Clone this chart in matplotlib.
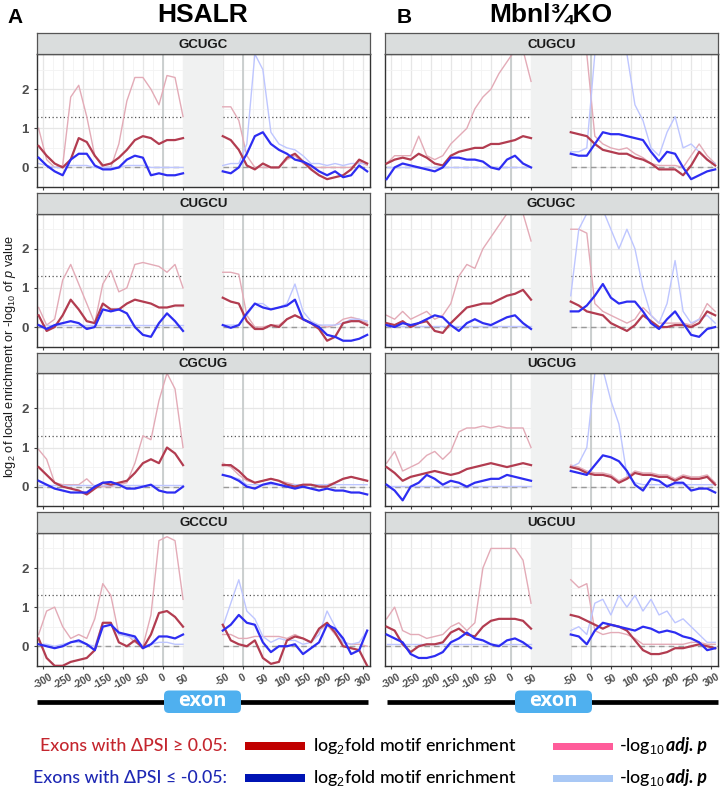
import matplotlib
matplotlib.use('Agg')
import matplotlib.pyplot as plt
from matplotlib.patches import FancyBboxPatch, Rectangle

plt.rcParams['mathtext.fontset'] = 'custom'
plt.rcParams['mathtext.rm'] = 'Liberation Sans'
plt.rcParams['mathtext.it'] = 'Liberation Sans:italic'
plt.rcParams['mathtext.bf'] = 'Liberation Sans:bold'

# ---------------- data ----------------
POS_UP = list(range(-310, 51, 20))     # upstream intron (+ exon start) positions
POS_DOWN = list(range(-50, 311, 20))   # exon end + downstream intron positions
TICKS_UP = [-300, -250, -200, -150, -100, -50, 0, 50]
TICKS_DOWN = [-50, 0, 50, 100, 150, 200, 250, 300]
MOTIFS_A = ['GCUGC', 'CUGCU', 'CGCUG', 'GCCCU']
MOTIFS_B = ['CUGCU', 'GCUGC', 'UGCUG', 'UGCUU']

# Panel A (HSALR) --- each list: 19 upstream values then 19 downstream values
A_GCUGC_red = [0.55,0.3,0.1,0.0,0.2,0.75,0.65,0.3,0.05,0.1,0.25,0.45,0.7,0.8,0.75,0.6,0.7,0.7,0.75,
               0.8,0.7,0.45,0.05,-0.05,0.1,0.0,0.0,0.25,0.35,0.15,-0.05,-0.2,-0.3,-0.25,-0.2,-0.05,0.2,0.1]
A_GCUGC_pink = [1.0,0.2,0.0,0.05,1.8,2.1,1.3,0.3,0.0,0.0,0.6,1.7,2.3,2.3,2.0,1.6,2.35,2.3,1.3,
                1.55,1.55,1.2,0.3,0.0,0.0,0.0,0.0,0.2,0.3,0.1,0.0,0.0,0.0,0.0,0.0,0.0,0.15,0.05]
A_GCUGC_blue = [0.25,0.05,-0.1,-0.2,0.2,0.35,0.35,0.05,-0.05,-0.05,0.0,0.2,0.3,0.25,-0.2,-0.15,-0.2,-0.2,-0.15,
                -0.1,-0.15,0.0,0.35,0.8,0.9,0.6,0.45,0.35,0.2,0.15,0.05,-0.1,-0.2,-0.1,-0.25,-0.2,0.05,-0.1]
A_GCUGC_lblue = [0.1,0.05,0.0,0.0,0.05,0.05,0.05,0.0,0.0,0.0,0.0,0.05,0.05,0.05,0.0,0.0,0.0,0.0,0.0,
                 0.05,0.1,0.1,0.6,2.9,2.5,0.9,0.6,0.5,0.45,0.3,0.1,0.1,0.05,0.1,0.05,0.1,0.1,0.1]

A_CUGCU_red = [0.3,-0.1,0.0,0.3,0.7,0.45,0.15,0.1,0.6,0.45,0.45,0.6,0.7,0.65,0.6,0.5,0.5,0.55,0.55,
               0.75,0.65,0.6,0.15,-0.05,-0.05,0.05,0.0,0.2,0.3,0.2,0.1,-0.05,-0.35,-0.25,0.1,0.15,0.15,0.05]
A_CUGCU_pink = [0.5,0.05,0.2,1.2,1.6,1.1,0.6,0.1,1.1,1.45,0.9,1.0,1.6,1.65,1.6,1.55,1.4,1.6,1.0,
                1.4,1.4,1.35,0.3,0.0,0.0,0.05,0.05,0.2,0.3,0.2,0.1,0.05,0.0,0.05,0.2,0.25,0.2,0.1]
A_CUGCU_blue = [0.05,-0.05,0.05,0.1,0.15,0.1,-0.05,0.0,0.45,0.4,0.45,0.35,0.0,-0.2,-0.25,0.1,0.35,0.15,-0.1,
                0.05,-0.02,0.05,0.35,0.6,0.5,0.45,0.5,0.55,0.7,0.2,0.1,0.0,-0.2,-0.25,-0.35,-0.35,-0.3,-0.2]
A_CUGCU_lblue = [0.05,0.05,0.05,0.05,0.05,0.05,0.05,0.05,0.05,0.05,0.05,0.05,0.05,0.05,0.05,0.05,0.05,0.05,0.05,
                 0.05,0.05,0.05,0.3,0.6,0.6,0.45,0.5,0.6,1.1,0.4,0.15,0.05,0.05,0.05,0.1,0.2,0.2,0.15]

A_CGCUG_red = [0.5,0.3,0.1,0.0,-0.05,-0.1,-0.2,-0.05,0.1,0.05,0.1,0.15,0.35,0.6,0.7,0.6,1.0,0.85,0.55,
               0.55,0.55,0.4,0.2,0.1,0.15,0.2,0.15,0.05,0.0,0.05,0.05,0.0,0.0,0.1,0.2,0.25,0.2,0.15]
A_CGCUG_pink = [0.95,0.7,0.1,0.05,0.05,0.05,0.2,0.0,0.0,0.0,0.05,0.1,0.6,1.3,1.2,2.2,2.9,2.5,1.0,
                0.6,0.5,0.3,0.15,0.1,0.15,0.2,0.15,0.1,0.05,0.05,0.05,0.05,0.05,0.1,0.2,0.25,0.2,0.15]
A_CGCUG_blue = [0.15,0.05,-0.05,-0.1,-0.15,-0.15,-0.15,0.0,0.1,0.12,0.05,-0.05,-0.05,0.0,0.05,-0.1,-0.15,-0.15,0.0,
                0.3,0.25,0.15,0.0,-0.05,0.05,0.1,0.05,0.0,-0.05,0.0,-0.05,-0.1,-0.05,-0.1,-0.1,-0.15,-0.15,-0.2]
A_CGCUG_lblue = [0.03,0.03,0.03,0.03,0.03,0.03,0.03,0.03,0.03,0.03,0.03,0.03,0.03,0.03,0.03,0.03,0.03,0.03,0.03,
                 0.3,0.25,0.2,0.05,0.05,0.05,0.05,0.05,0.05,0.05,0.05,0.05,0.05,0.05,0.05,0.05,0.05,0.05,0.05]

A_GCCCU_red = [0.2,-0.3,-0.5,-0.5,-0.4,-0.35,-0.3,-0.1,0.6,0.6,0.1,0.0,0.15,-0.05,0.3,0.85,0.9,0.75,0.5,
               0.55,0.15,0.05,0.0,0.15,-0.3,-0.45,-0.4,0.15,0.25,0.2,0.1,0.45,0.6,0.35,0.0,-0.05,-0.1,-0.5]
A_GCCCU_pink = [0.3,0.9,1.0,0.5,0.2,0.3,0.2,0.7,1.6,1.3,0.3,0.3,0.1,0.0,0.8,2.7,2.8,2.7,1.2,
                0.3,0.3,0.2,0.2,0.25,0.25,0.25,0.25,0.2,0.3,0.2,0.1,0.4,0.55,0.3,0.1,0.05,0.05,0.0]
A_GCCCU_blue = [0.05,0.0,-0.05,0.0,0.1,0.15,0.05,-0.1,0.5,0.55,0.35,0.3,0.25,-0.05,0.05,0.25,0.25,0.2,0.3,
                0.4,0.55,0.8,0.6,0.55,0.1,-0.15,0.0,0.0,0.05,-0.2,-0.05,0.1,0.55,0.45,0.2,-0.2,-0.1,0.4]
A_GCCCU_lblue = [0.05,0.05,0.0,0.05,0.1,0.1,0.05,0.0,0.6,0.6,0.3,0.25,0.2,0.0,0.05,0.1,0.1,0.05,0.05,
                 0.5,1.1,1.7,0.9,0.7,0.25,0.1,0.2,0.15,0.15,0.05,0.1,0.3,0.9,0.5,0.1,0.05,0.1,0.4]

# Panel B (Mbnl3/4KO)
B_CUGCU_red = [0.1,0.2,0.25,0.2,0.35,0.25,0.1,0.05,0.3,0.4,0.45,0.5,0.5,0.6,0.6,0.65,0.7,0.8,0.75,
               0.9,0.85,0.8,0.6,0.45,0.4,0.35,0.35,0.25,0.2,0.1,-0.05,-0.05,-0.05,-0.2,0.05,0.4,0.2,0.05]
B_CUGCU_pink = [0.1,0.3,0.3,0.3,0.8,0.3,0.2,0.3,0.6,0.8,1.0,1.5,1.8,2.0,2.4,2.7,3.0,3.0,2.2,
                2.9,2.9,2.9,0.8,0.6,0.5,0.45,0.5,0.35,0.25,0.1,0.05,0.05,0.05,0.0,0.3,0.6,0.3,0.1]
B_CUGCU_blue = [-0.3,0.0,0.1,0.05,0.0,-0.05,-0.1,0.0,0.25,0.25,0.2,0.2,0.15,0.0,-0.05,0.2,0.3,0.1,0.0,
                0.35,0.3,0.3,0.6,0.9,0.85,0.85,0.8,0.75,0.7,0.4,0.15,0.4,0.35,0.0,-0.3,-0.2,-0.1,-0.05]
B_CUGCU_lblue = [0.02,0.02,0.02,0.02,0.02,0.02,0.02,0.02,0.02,0.02,0.02,0.02,0.02,0.02,0.02,0.02,0.02,0.02,0.02,
                 0.4,0.4,0.5,2.9,3.0,3.0,3.0,2.9,1.6,1.2,0.5,0.3,0.9,1.3,0.5,0.6,0.4,0.2,0.1]

B_GCUGC_red = [0.1,0.05,0.15,0.0,0.1,0.15,-0.1,-0.15,0.1,0.3,0.5,0.55,0.6,0.6,0.7,0.8,0.85,0.95,0.7,
               0.65,0.55,0.4,0.35,0.3,0.1,0.0,-0.1,0.05,0.3,0.15,0.0,0.0,0.05,0.05,0.0,0.1,0.4,0.3]
B_GCUGC_pink = [0.3,0.2,0.4,0.2,0.3,0.4,0.2,0.3,0.6,1.3,1.6,1.5,2.0,2.3,2.6,2.9,2.9,2.9,2.2,
                2.5,2.5,2.4,0.6,0.4,0.3,0.2,0.1,0.2,0.5,0.3,0.1,0.1,0.1,0.1,0.05,0.2,0.6,0.4]
B_GCUGC_blue = [0.05,0.0,0.1,0.05,0.1,0.2,0.3,0.25,0.05,-0.1,0.1,0.2,0.1,0.05,0.15,0.25,0.3,0.1,-0.05,
                0.4,0.4,0.55,0.8,1.1,0.75,0.6,0.65,0.65,0.4,0.1,-0.05,0.2,0.4,0.1,-0.2,-0.25,-0.05,0.0]
B_GCUGC_lblue = [0.02,0.02,0.02,0.02,0.02,0.02,0.02,0.02,0.02,0.02,0.02,0.02,0.02,0.02,0.02,0.02,0.02,0.02,0.02,
                 0.8,2.5,2.9,3.0,3.0,2.5,2.0,2.5,2.0,1.0,0.3,0.1,0.6,1.7,0.4,0.1,0.2,0.3,0.1]

B_UGCUG_red = [0.5,0.35,0.15,0.25,0.3,0.35,0.4,0.35,0.3,0.35,0.45,0.5,0.55,0.6,0.55,0.5,0.55,0.6,0.55,
               0.5,0.45,0.35,0.3,0.3,0.25,0.1,0.2,0.35,0.3,0.3,0.25,0.25,0.15,0.25,0.2,0.2,0.25,0.05]
B_UGCUG_pink = [0.6,0.9,0.4,0.5,0.6,0.8,0.9,0.7,0.9,1.4,1.5,1.5,1.55,1.5,1.55,1.5,1.5,1.5,1.0,
                0.55,0.5,0.4,0.35,0.35,0.3,0.15,0.25,0.4,0.35,0.35,0.3,0.3,0.2,0.3,0.25,0.25,0.3,0.1]
B_UGCUG_blue = [0.05,-0.1,-0.35,0.0,0.1,0.3,0.2,0.05,0.15,0.1,0.0,0.1,0.15,0.2,0.2,0.3,0.25,0.2,0.15,
                0.4,0.35,0.3,0.55,0.8,0.75,0.65,0.4,0.05,-0.1,0.2,0.15,0.0,0.1,0.1,-0.1,-0.05,-0.05,-0.15]
B_UGCUG_lblue = [0.02,0.02,0.02,0.02,0.02,0.02,0.02,0.02,0.02,0.02,0.02,0.02,0.02,0.02,0.02,0.02,0.02,0.02,0.02,
                 0.5,0.6,1.0,2.9,3.0,2.2,1.6,0.3,0.1,0.05,0.05,0.05,0.05,0.05,0.05,0.05,0.05,0.05,0.05]

B_UGCUU_red = [0.5,0.4,0.05,-0.15,0.0,0.05,0.05,0.1,0.35,0.45,0.3,0.25,0.5,0.65,0.7,0.7,0.7,0.65,0.45,
               0.8,0.75,0.65,0.55,0.45,0.55,0.5,0.4,0.15,-0.1,-0.2,-0.2,-0.15,-0.05,-0.05,0.0,0.05,0.0,-0.05]
B_UGCUU_pink = [0.7,1.0,0.4,0.3,0.3,0.2,0.25,0.3,0.5,0.6,0.4,0.6,2.0,2.5,2.5,2.5,2.5,2.2,1.1,
                1.7,1.5,1.6,0.4,0.3,0.35,0.35,0.3,0.2,0.05,0.05,0.05,0.05,0.05,0.05,0.1,0.1,0.05,0.05]
B_UGCUU_blue = [0.3,0.2,0.1,-0.2,-0.3,-0.3,-0.25,-0.15,0.1,0.2,0.35,0.2,0.15,0.05,0.0,0.15,0.2,0.1,-0.05,
                0.3,0.25,0.05,0.4,0.6,0.55,0.5,0.45,0.4,0.5,0.45,0.35,0.4,0.35,0.25,0.2,0.1,-0.1,-0.05]
B_UGCUU_lblue = [0.05,0.05,0.05,0.05,0.05,0.05,0.05,0.05,0.05,0.05,0.05,0.05,0.05,0.05,0.05,0.05,0.05,0.05,0.05,
                 0.4,0.5,0.3,1.1,1.2,0.8,1.3,1.0,1.3,0.9,1.2,0.8,0.9,0.6,0.7,0.5,0.3,0.1,0.1]

PANEL_A = [(A_GCUGC_red, A_GCUGC_pink, A_GCUGC_blue, A_GCUGC_lblue),
           (A_CUGCU_red, A_CUGCU_pink, A_CUGCU_blue, A_CUGCU_lblue),
           (A_CGCUG_red, A_CGCUG_pink, A_CGCUG_blue, A_CGCUG_lblue),
           (A_GCCCU_red, A_GCCCU_pink, A_GCCCU_blue, A_GCCCU_lblue)]
PANEL_B = [(B_CUGCU_red, B_CUGCU_pink, B_CUGCU_blue, B_CUGCU_lblue),
           (B_GCUGC_red, B_GCUGC_pink, B_GCUGC_blue, B_GCUGC_lblue),
           (B_UGCUG_red, B_UGCUG_pink, B_UGCUG_blue, B_UGCUG_lblue),
           (B_UGCUU_red, B_UGCUU_pink, B_UGCUU_blue, B_UGCUU_lblue)]

# ---------------- layout ----------------
W, H = 722, 788
OFFSET = 199           # shift of downstream coordinates (exon gap)
XMIN, XMAX = -314, 317 + OFFSET
YMIN, YMAX = -0.5, 2.9

C_RED = '#B23C50'
C_PINK = '#E3ABB7'
C_BLUE = '#2D2DF2'
C_LBLUE = '#BEC6FF'
GG = 'Liberation Sans'

fig = plt.figure(figsize=(W / 100, H / 100), dpi=100)


def axes_px(left, top, width, height):
    return fig.add_axes([left / W, 1 - (top + height) / H, width / W, height / H])


xs_up = POS_UP
xs_down = [d + OFFSET for d in POS_DOWN]
major_x = TICKS_UP + [t + OFFSET for t in TICKS_DOWN]
minor_x = [t + 25 for t in TICKS_UP[:-1]] + [t + 25 + OFFSET for t in TICKS_DOWN[:-1]] + [-325, 325 + OFFSET]
minor_x = [m for m in minor_x if XMIN < m < XMAX]

for col, (left, motifs, panel) in enumerate([(37, MOTIFS_A, PANEL_A), (385, MOTIFS_B, PANEL_B)]):
    for row in range(4):
        top = 54 + row * 159.6
        ax = axes_px(left, top, 333, 133)
        sax = axes_px(left, top - 20.7, 333, 20.7)
        red, pink, blue, lblue = panel[row]

        ax.set_xlim(XMIN, XMAX)
        ax.set_ylim(YMIN, YMAX)
        ax.set_axisbelow(True)
        ax.set_xticks(major_x)
        ax.set_xticks(minor_x, minor=True)
        ax.set_yticks([0, 1, 2])
        ax.set_yticks([-0.5, 0.5, 1.5, 2.5], minor=True)
        ax.grid(which='major', color='#E6E6E6', lw=0.9)
        ax.grid(which='minor', color='#F3F3F3', lw=0.6)
        ax.tick_params(which='minor', length=0)
        ax.tick_params(which='major', length=2.5, width=0.8, color='#444444')

        # exon gap and splice-site lines
        ax.axvspan(50, -50 + OFFSET, color='#F0F1F1', zorder=1, lw=0)
        ax.axvline(0, color='#C9CDCD', lw=1.3, zorder=1.1)
        ax.axvline(OFFSET, color='#C9CDCD', lw=1.3, zorder=1.1)
        for x0, x1 in [(XMIN, 50), (-50 + OFFSET, XMAX)]:
            ax.plot([x0, x1], [1.3, 1.3], ls=(0, (1, 2)), color='#555555', lw=0.9, zorder=1.2)
            ax.plot([x0, x1], [0, 0], ls=(0, (4, 3)), color='#9A9A9A', lw=1.0, zorder=1.2)

        for vals, c, lw, z in [(pink, C_PINK, 1.0, 2), (lblue, C_LBLUE, 1.0, 2.1),
                               (red, C_RED, 1.6, 3), (blue, C_BLUE, 1.6, 3.1)]:
            ax.plot(xs_up, vals[:19], color=c, lw=lw, zorder=z, solid_joinstyle='round')
            ax.plot(xs_down, vals[19:], color=c, lw=lw, zorder=z, solid_joinstyle='round')

        for s in ax.spines.values():
            s.set_color('#333333')
            s.set_linewidth(1.0)

        if col == 0:
            ax.set_yticklabels(['0', '1', '2'], fontsize=9.5, fontweight='bold',
                               color='#4D4D4D', family=GG)
        else:
            ax.set_yticklabels([])
            ax.tick_params(axis='y', length=0)
        if row == 3:
            ax.set_xticklabels([str(t) for t in TICKS_UP] + [str(t) for t in TICKS_DOWN],
                               rotation=30, ha='center', va='top', fontsize=7.4,
                               color='#4D4D4D', family=GG, fontweight='bold')
            ax.tick_params(axis='x', pad=2)
        else:
            ax.set_xticklabels([])

        # strip
        sax.set_xticks([])
        sax.set_yticks([])
        sax.set_facecolor('#DADDDD')
        for s in sax.spines.values():
            s.set_color('#555555')
            s.set_linewidth(0.9)
        sax.text(0.5, 0.45, motifs[row], transform=sax.transAxes, ha='center', va='center',
                 fontsize=9.5, fontweight='bold', color='#1A1A1A', family=GG)

# ---------------- overlay: titles, y-label, exon track, legend ----------------
ov = fig.add_axes([0, 0, 1, 1], zorder=10)
ov.set_xlim(0, W)
ov.set_ylim(H, 0)
ov.axis('off')

ov.text(15, 17, 'A', fontsize=15, fontweight='bold', ha='center', va='center', family=GG)
ov.text(203, 15, 'HSALR', fontsize=19, fontweight='bold', ha='center', va='center', family=GG)
ov.text(404, 17, 'B', fontsize=15, fontweight='bold', ha='center', va='center', family=GG)
ov.text(551, 15, 'Mbnl¾KO', fontsize=19, fontweight='bold', ha='center', va='center', family=GG)

ov.text(10, 356, r'log$_2$ of local enrichment or -log$_{10}$ of $p$ value', rotation=90,
        ha='center', va='center', fontsize=9.2, family=GG, color='#1A1A1A')

for x0, x1, bx in [(37, 368, 164), (387, 718, 515)]:
    ov.plot([x0, x1], [702, 702], color='black', lw=3.4, solid_capstyle='butt', zorder=1)
    ov.add_patch(FancyBboxPatch((bx, 690.5), 77, 22.5,
                                boxstyle='round,pad=0,rounding_size=5',
                                fc='#4FB0EF', ec='none', zorder=2))
    ov.text(bx + 38.5, 701, 'exon', color='white', fontsize=14.5, fontweight='bold',
            ha='center', va='center', family=['Open Sans', 'DejaVu Sans'], zorder=3)

LEG = ['Lato', 'Open Sans', 'DejaVu Sans']
legend_rows = [(746, 'Exons with ΔPSI ≥ 0.05:', '#C4262E', '#C00000', '#FF5C9A'),
               (778, 'Exons with ΔPSI ≤ -0.05:', '#1E28B4', '#0014B4', '#A9C8F5')]
fig.canvas.draw()
for y, label, tc, sw1, sw2 in legend_rows:
    ov.text(227, y, label, color=tc, fontsize=12.8, ha='right', va='center', family=LEG,
            fontweight='medium')
    ov.add_patch(Rectangle((245, y - 4), 60, 8, fc=sw1, ec='none'))
    ov.text(313, y, r'log$_2$fold motif enrichment', color='black', fontsize=12.8,
            ha='left', va='center', family=LEG, fontweight='medium')
    ov.add_patch(Rectangle((553, y - 3.5), 60, 7, fc=sw2, ec='none'))
    t = ov.text(619, y, r'-log$_{10}$ ', color='black', fontsize=12.8, ha='left', va='center',
                family=LEG, fontweight='medium')
    bb = t.get_window_extent(renderer=fig.canvas.get_renderer())
    xend = ov.transData.inverted().transform((bb.x1, bb.y0))[0]
    ov.text(xend, y, 'adj. p', color='black', fontsize=12.8, ha='left', va='center',
            family=LEG, fontweight='bold', fontstyle='italic')

fig.savefig('out.png', dpi=100)
